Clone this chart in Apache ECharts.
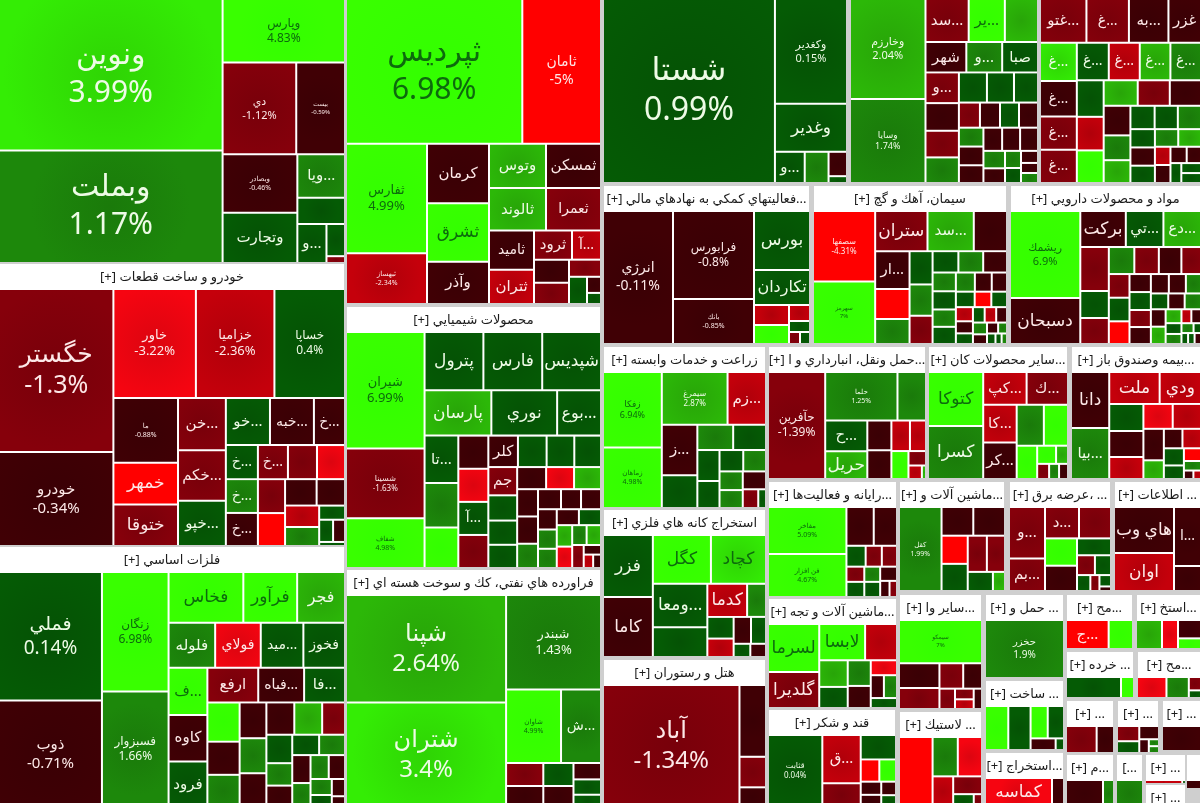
<!DOCTYPE html>
<html><head><meta charset="utf-8">
<style>html,body{margin:0;padding:0;background:#cfcfcf}#c{width:1200px;height:803px}</style>
<script src="https://cdn.jsdelivr.net/npm/echarts@6/dist/echarts.min.js"></script></head>
<body><div id="c"></div>
<script>
// ---------- DATA ----------
const bankNames=['ونوين','وبملت','وپارس','دي','بيست','وبصادر','وتجارت','...ويا','','...و'];
const bankSizes=[33744,25086,7749,6734,4459,4350,3750,2064,1248,1131,594,126];
const bankMoves=[3.99,1.17,4.83,-1.12,-0.59,-0.46,0.2,1.5,0.5,0.5,0.5,-1.5];

const autoNames=['خگستر','خودرو','خاور','خزاميا','خساپا','ما','خمهر','ختوقا','...خن','...خكم','...خپو','...خو','...خبه','...خ','...خ','...خ','','','...خ','','','','...خ'];
const autoSizes=[18582,10716,8964,8532,7668,4160,2688,2680,2496,2400,2160,2068,2060,1457,1088,1020,952,986,1080,918,832,728,1056,891,748,646,364,308,264,104];
const autoMoves=[-1.3,-0.34,-3.22,-2.36,0.4,-0.88,-4.5,-1.5,-1.5,-1.5,0.5,0.5,-0.5,-0.5,0.5,-1.5,-3.5,-1.5,1.5,-1.5,-0.5,-2.5,-0.5,-4.5,-0.5,1.5,0.5,0.5,-0.5,0.5];

const metalNames=['فملي','ذوب','زنگان','فسبزوار','فخاس','فرآور','فجر','فلوله','فولاي','...ميد','فخوز','...ف','ارفع','...فباه','...فا','كاوه','فرود'];
const metalSizes=[13056,10812,7854,7590,3750,2700,2400,2068,2024,1892,1848,1800,1734,1564,1394,1786,1740,1056,891,924,890,726,1248,888,1024,945,728,540,520,572,546,432,430,384,504,336,224,252,140];
const metalMoves=[0.14,-0.71,6.98,1.66,4.5,4.5,2.5,1.5,-3.5,0.5,0.5,4.5,-1.5,-0.5,0.5,-0.5,0.5,-0.5,-0.5,1.5,-0.5,0.5,4.5,2.5,1.5,-0.5,-1.5,0.5,1.5,1.5,-0.5,1.5,1.5,-0.5,-0.5,1.5,-0.5,0.5,-0.5];

const investNames=['ثپرديس','ثامان','ثفارس','ثبهساز','كرمان','ثشرق','وآذر','وتوس','ثمسكن','ثالوند','ثعمرا','ثاميد','ثتران','ثرود','...آ'];
const investSizes=[25311,11297,8800,4080,3658,3596,2604,2508,2420,2394,2310,1755,1530,1102,841,805,735,544,486,224,154];
const investMoves=[6.98,-5,4.99,-2.34,-0.5,4.5,-0.5,2.5,-0.5,2.5,-1.5,-0.5,-2.5,-1.5,-2.5,-0.5,-1.5,-1.5,0.5,-0.5,0.5];

const chemNames=['شيران','شسينا','شفاف','پترول','فارس','شپديس','پارسان','نوري','...بوع','...تا','','','','','...آ','','كلر','جم'];
const chemSizes=[9126,5460,3900,3422,3421,3420,3015,2970,1980,1598,1496,1360,992,991,990,989,928,812,725,696,667,899,868,837,638,594,616,567,460,400,399,566,504,361,352,330,380,360,351,286,329,285,264,165,105,126];
const chemMoves=[6.99,-1.63,4.98,0.5,0.5,0.5,2.5,0.5,0.5,0.5,1.5,4.5,-0.5,-3.5,0.5,-1.5,-0.5,-1.5,0.5,0.5,0.5,0.5,0.5,0.5,-0.5,2.5,-3.5,-0.5,-0.5,-0.5,-0.5,-0.5,1.5,1.5,-0.5,2.5,-0.5,1.5,0.5,1.5,-3.5,2.5,-1.5,-0.5,-0.5,-2.5];

const refineNames=['شپنا','شتران','شبندر','شاوان','...ش'];
const refineSizes=[17120,16640,8930,4015,2920,851,690,420,777,630,448,336];
const refineMoves=[2.64,3.4,1.43,4.99,1.5,-1.5,0.5,0.5,-0.5,-0.5,-0.5,0.5];

const shastaNames=['شستا','وكغدير','وغدير','...و'];
const shastaSizes=[31648,7560,3456,930,744,450,126];
const shastaMoves=[0.99,0.15,0.5,0.5,1.5,-0.5,0.5];

const holdNames=['وخارزم','وسايا','...سد','...ير','','شهر','...و','صبا','...و'];
const holdSizes=[7500,6300,1849,1548,1419,1230,1080,1079,1020,840,810,720,884,525,500,475,474,918,850,456,460,414,413,432,431,374,272,204,170,315,238,169];
const holdMoves=[2.04,1.74,-1.5,4.5,2.5,-0.5,1.5,0.5,-1.5,0.5,0.5,0.5,-1.5,-1.5,-0.5,0.5,-0.5,-0.5,1.5,-0.5,1.5,-0.5,-0.5,-0.5,-0.5,1.5,1.5,-0.5,-0.5,-0.5,0.5,1.5];

const foodNames=['...غتو','...غ','...به','غزر','...غ','...غ','...غ','...غ','...غ','...غ','...غ','...غ'];
const foodSizes=[2068,1892,1760,1450,1430,1248,1247,1170,1169,1332,1221,1184,999,918,891,884,806,832,810,675,621,576,552,551,456,455,418,408,432,270,289,238,285,220,200,199];
const foodMoves=[-1.5,-1.5,-0.5,-0.5,3.5,-1.5,-1.5,2.5,1.5,-0.5,0.5,-2.5,0.5,-2.5,4.5,2.5,-0.5,-1.5,-0.5,1.5,2.5,0.5,0.5,1.5,0.5,-0.5,1.5,2.5,0.5,-0.5,-2.5,-0.5,-0.5,0.5,0.5,0.5];

const finNames=['انرژي','فرابورس','بانك','بورس','تكاردان'];
const finSizes=[9310,7128,3645,3304,1960,700,336,665,231,132,120];
const finMoves=[-0.11,-0.8,-0.85,0.5,0.5,-2.5,-2.5,4.5,0.5,-1.5,0.5];

const cementNames=['سصفها','سهرمز','ستران','...سد','','...ار'];
const cementSizes=[4340,3844,2080,1840,1320,1292,1020,850,759,713,644,525,546,504,360,420,400,320,396,432,289,288,255,240,239,176,180,204,96,179,165,164,135,120,88,56,64];
const cementMoves=[-4.31,7,-1.5,2.5,-0.5,-0.5,-4.5,1.5,0.5,1.5,-1.5,1.5,0.5,-0.5,1.5,0.5,1.5,-0.5,0.5,1.5,-0.5,0.5,-4.5,0.5,-2.5,-2.5,0.5,-0.5,1.5,0.5,-0.5,1.5,-0.5,-0.5,0.5,1.5,0.5];

const pharmaNames=['ريشمك','دسبحان','بركت','...تي','...دع'];
const pharmaSizes=[6003,3174,1610,1330,1329,1232,676,650,598,520,756,728,480,479,460,378,342,324,288,377,270,252,251,216,357,255,356,254,156,168,132,135,117,72,71,70,69];
const pharmaMoves=[6.9,-0.5,-0.5,0.5,2.5,-1.5,1.5,-1.5,-0.5,-1.5,0.5,-1.5,-1.5,0.5,-4.5,-0.5,-0.5,-0.5,1.5,0.5,0.5,-0.5,2.5,2.5,-1.5,-0.5,-0.5,1.5,1.5,0.5,-0.5,-2.5,1.5,0.5,0.5,0.5,-0.5];

const agriNames=['زفكا','زماهان','سيمرغ','...زم','...ز'];
const agriSizes=[4408,3538,3445,2014,1785,1155,900,825,682,594,504,483,432,414,413,288,144];
const agriMoves=[6.94,4.98,2.87,-2.5,-0.5,0.5,1.5,0.5,0.5,0.5,0.5,1.5,1.5,1.5,-0.5,-1.5,0.5];

const transNames=['حآفرين','حلما','','...ح','حريل'];
const transSizes=[6156,3528,1392,1302,1176,720,570,480,696,493,255,182,56];
const transMoves=[-1.39,1.25,1.5,0.5,2.5,-0.5,-2.5,4.5,-0.5,-2.5,-1.5,-2.5,2.5];

const kanNames=['كتوكا','كسرا','...كپ','...ك','...كا','...كر'];
const kanSizes=[2970,2915,1419,1353,1254,1221,1107,984,680,342,216,180,150,135];
const kanMoves=[4.5,1.5,-2.5,-1.5,-2.5,-0.5,1.5,4.5,4.5,4.5,2.5,-1.5,1.5,-0.5];

const insureNames=['دانا','...بيا','ملت','ودي'];
const insureSizes=[2128,1938,1600,1312,918,725,700,884,748,640,380,360,342,216,359,270,162,80,64];
const insureMoves=[-0.5,1.5,-2.5,-2.5,0.5,-3.5,-2.5,-0.5,-2.5,-0.5,2.5,-0.5,0.5,-4.5,-2.5,0.5,1.5,-0.5,-2.5];

const compNames=['مفاخر','فن افزار'];
const compSizes=[3666,3354,1053,897,399,315,336,270,240,239,269,238,150,120];
const compMoves=[5.09,4.67,-0.5,-0.5,0.5,-1.5,-1.5,-1.5,1.5,0.5,0.5,-0.5,-0.5,-1.5];

const machNames=['كقل'];
const machSizes=[3528,899,898,728,648,684,702,475,228];
const machMoves=[1.99,-0.5,-0.5,-4.5,-1.5,-1.5,0.5,0.5,2.5];

const powerNames=['...و','...بم','...د'];
const powerSizes=[1836,1152,1054,992,864,800,567,351,315,210,143,130,52];
const powerMoves=[-1.5,-1.5,-1.5,-1.5,4.5,-0.5,0.5,-1.5,0.5,0.5,-1.5,0.5,-0.5];

const infoNames=['هاي وب','اوان','...ا'];
const infoSizes=[2760,2280,1593,675];
const infoMoves=[-0.5,-2.5,-0.5,-0.5];

const mineNames=['فزر','كاما','كگل','كچاد','...ومعا','','كدما'];
const mineSizes=[3100,3000,2842,2695,2380,1620,1320,627,572,486,405,468,221,208];
const mineMoves=[0.5,-0.5,4.5,3.5,0.5,0.5,-2.5,1.5,0.5,-2.5,0.5,-0.5,0.5,-0.5];

const hotelNames=['آباد'];
const hotelSizes=[16592,1898,806,520];
const hotelMoves=[-1.34,-0.5,-1.5,-0.5];

const mach2Names=['لسرما','لابسا','','گلديرا'];
const mach2Sizes=[2448,1656,1152,1836,756,598,390,299,298,588,506,260];
const mach2Moves=[4.5,4.5,-2.5,-1.5,2.5,0.5,-3.5,-0.5,1.5,1.5,-0.5,0.5];

const sugarNames=['قثابت','...ق'];
const sugarSizes=[3763,1786,828,399,357,874,240,260,192,168];
const sugarMoves=[0.04,-2.5,0.5,-4.5,4.5,-1.5,-0.5,-0.5,-0.5,0.5];

const otherNames=['سيمكو'];
const otherSizes=[3569,1000,600,475,840,315,198,180,168];
const otherMoves=[7,-0.5,-1.5,-0.5,-1.5,-1.5,-1.5,-2.5,-0.5];

const haulNames=['حخزر'];      const haulSizes=[4000];  const haulMoves=[1.9];
const buildNames=[];           const buildSizes=[1035,990,561,532,294,98]; const buildMoves=[4.5,0.5,4.5,0.5,-0.5,0.5];
const quarryNames=['كماسه'];   const quarrySizes=[2010,360]; const quarryMoves=[-3.5,-0.5];
const rubberNames=[];          const rubberSizes=[2310,975,936,620,504,260,104]; const rubberMoves=[-4.5,1.5,-3.5,-2.5,-1.5,0.5,-1.5];
const s29Names=['...ج'];       const s29Sizes=[1260,720]; const s29Moves=[-4.5,4.5];
const s30Names=[];             const s30Sizes=[780,480,437,253]; const s30Moves=[2.5,-3.5,-0.5,4.5];
const s31Names=[];             const s31Sizes=[1210,286]; const s31Moves=[0.5,4.5];
const s32Names=[];             const s32Sizes=[638,484,168,96]; const s32Moves=[-3.5,1.5,-1.5,0.5];
const s33Names=[];             const s33Sizes=[840,476]; const s33Moves=[-1.5,-0.5];
const s34Names=[];             const s34Sizes=[336,260,259,130,70,69]; const s34Moves=[-1.5,0.5,-0.5,-0.5,1.5,1.5];
const s35Names=[];             const s35Sizes=[900]; const s35Moves=[-0.5];
const s36Names=[];             const s36Sizes=[1036,308]; const s36Moves=[-0.5,1.5];
const s37Names=[];             const s37Sizes=[900]; const s37Moves=[1.5];
const s38Names=[];             const s38Sizes=[120,12]; const s38Moves=[-2.5,0.5];
const s39Names=[];             const s39Sizes=[120]; const s39Moves=[0.5];
const s40Names=[];             const s40Sizes=[90]; const s40Moves=[-0.5];

const sectorHeaders=['بانك‌ها','خودرو و ساخت قطعات','فلزات اساسي','شركتهاي چند رشته اي','محصولات شيميايي','فراورده هاي نفتي، كك و سوخت هسته اي','انبوه سازي','چندرشته اي','...غذايي','...فعاليتهاي كمكي به نهادهاي مالي','سيمان، آهك و گچ','مواد و محصولات دارويي','زراعت و خدمات وابسته','...حمل ونقل، انبارداري و ا','...ساير محصولات كان','...بيمه وصندوق باز','...رايانه و فعاليت‌ها','...ماشين آلات و','... ،عرضه برق','... اطلاعات','استخراج كانه هاي فلزي','هتل و رستوران','...ماشين آلات و تجه','قند و شكر','...ساير وا','... حمل و','... ساخت','...استخراج','... لاستيك','...مح','...استخ','... خرده','...مح','...','...','...','...م','[...','...','...',''];
const sectorNames=[bankNames,autoNames,metalNames,investNames,chemNames,refineNames,shastaNames,holdNames,foodNames,finNames,cementNames,pharmaNames,agriNames,transNames,kanNames,insureNames,compNames,machNames,powerNames,infoNames,mineNames,hotelNames,mach2Names,sugarNames,otherNames,haulNames,buildNames,quarryNames,rubberNames,s29Names,s30Names,s31Names,s32Names,s33Names,s34Names,s35Names,s36Names,s37Names,s38Names,s39Names,s40Names];
const sectorSizes=[bankSizes,autoSizes,metalSizes,investSizes,chemSizes,refineSizes,shastaSizes,holdSizes,foodSizes,finSizes,cementSizes,pharmaSizes,agriSizes,transSizes,kanSizes,insureSizes,compSizes,machSizes,powerSizes,infoSizes,mineSizes,hotelSizes,mach2Sizes,sugarSizes,otherSizes,haulSizes,buildSizes,quarrySizes,rubberSizes,s29Sizes,s30Sizes,s31Sizes,s32Sizes,s33Sizes,s34Sizes,s35Sizes,s36Sizes,s37Sizes,s38Sizes,s39Sizes,s40Sizes];
const sectorMoves=[bankMoves,autoMoves,metalMoves,investMoves,chemMoves,refineMoves,shastaMoves,holdMoves,foodMoves,finMoves,cementMoves,pharmaMoves,agriMoves,transMoves,kanMoves,insureMoves,compMoves,machMoves,powerMoves,infoMoves,mineMoves,hotelMoves,mach2Moves,sugarMoves,otherMoves,haulMoves,buildMoves,quarryMoves,rubberMoves,s29Moves,s30Moves,s31Moves,s32Moves,s33Moves,s34Moves,s35Moves,s36Moves,s37Moves,s38Moves,s39Moves,s40Moves];

// ---------- LAYOUT / STYLE (not data) ----------
const HEAD=26;
const sectorBoxes=[[0,-26,344,288],[0,264,344,281],[0,547,344,259],[347,-26,253,329],[347,307,253,260],[347,570,253,236],
[604,-26,242,208],[851,-26,186,208],[1041,-26,159,208],[604,186,205,157],[814,186,192,157],[1011,186,189,157],
[604,347,161,160],[769,347,156,131],[929,347,138,131],[1072,347,128,131],[769,482,127,114],[900,482,104,108],[1010,482,100,108],[1115,482,85,108],
[604,510,161,146],[604,660,161,146],[769,599,127,108],[769,710,126,96],[900,595,81,113],[986,595,77,82],[986,681,77,68],[986,753,77,53],[900,712,81,94],
[1067,595,65,53],[1137,595,63,53],[1067,652,66,45],[1138,652,62,45],[1067,701,46,51],[1118,701,40,51],[1163,701,37,49],[1067,755,46,51],[1117,755,25,51],[1146,755,39,28],[1146,785,39,30],[1187,755,13,33]];
const moveBands=[-4,-3,-2,-1,0,1,2,3,4];
const bandColors=['#ff0000','#dc0510','#b0000a','#78000a','#3a0005','#055205','#1a7a0a','#28a508','#2fd405','#33ff00'];
const pctFont={'ونوين':30,'وبملت':30,'وپارس':12,'دي':11,'بيست':6,'وبصادر':7,'خگستر':25,'خودرو':15,'خاور':13,'خزاميا':13,'خساپا':12,'ما':7,'فملي':19,'ذوب':15,'زنگان':12,'فسبزوار':12,'ثپرديس':30,'ثامان':14,'ثفارس':13,'ثبهساز':7,'شيران':13,'شسينا':8,'شفاف':7,'شپنا':24,'شتران':24,'شبندر':13,'شاوان':7,'شستا':32,'وكغدير':11,'وخارزم':11,'وسايا':9,'انرژي':14,'فرابورس':12,'بانك':7,'سصفها':8,'سهرمز':6,'ريشمك':11,'زفكا':9,'زماهان':7,'سيمرغ':8,'حآفرين':12,'حلما':7,'مفاخر':7,'فن افزار':7,'كقل':7,'حخزر':10,'قثابت':8,'آباد':24,'سيمكو':6};
const nameFont={'...خ':14,'...غ':14,'...و':15,'...ا':14,'...ر':14,'...ز':15,'...ف':15,'...آ':14,'...ش':14,'...ك':15,'...كا':15,'...كر':15,'...ق':15,'...ح':15,'...د':15,'...ج':15,'...بم':15,'...به':15,'...زم':15,'...ار':15,'...تا':15,'...بوع':16,'...تي':15,'...دع':15,'...سد':15,'...ير':15,'...كپ':15,'...بيا':15,'...خن':15,'...خو':15,'...خكم':15,'...خبه':14,'...خپو':15,'...غتو':15,'غزر':15,'شهر':15,'صبا':15,'ثرود':15,'جم':15,'كلر':15,'...فا':15,'...فباه':14,'...ميد':14,'فخوز':14,'فلوله':15,'فولاي':14,'ارفع':15,'كاوه':15,'فرود':15,'فجر':16,'ثمسكن':15,'ثعمرا':14,'ثاميد':14,'...ويا':15,'وتجارت':15,'كرمان':15,'ثالوند':15,'وتوس':15,'ثتران':15,'وآذر':15,'تكاردان':16};
const darkText=['كچاد'];
const FONT='"Noto Sans","DejaVu Sans",sans-serif';
const rtl=s=>'\u202B'+s+'\u202C';
function colorOf(m){let i=0;while(i<moveBands.length&&m>=moveBands[i])i++;return bandColors[i];}
function fill(m){
  const base=colorOf(m);
  return {type:'radial',x:0.5,y:0.5,r:0.72,colorStops:[{offset:0,color:base},{offset:1,color:echarts.color.lift(base,-0.12)}]};
}
function leaf(name,size,move){
  const hasPct=name in pctFont;
  const txt=name?(hasPct?rtl(name)+'\n'+move+'%':rtl(name)):'';
  const fs=hasPct?pctFont[name]:(nameFont[name]||17);
  const bright=move>=4||darkText.includes(name);
  return {name:txt,value:size,itemStyle:{color:fill(move)},
    label:{fontSize:fs,lineHeight:Math.round(fs*1.25),color:bright?'#0d6a0d':(move<0?'#fde8e8':'#eefbe6')}};
}
const series=sectorBoxes.map((b,i)=>{
  const h=sectorHeaders[i];
  const title=!h?' ':(h==='[...'?h:rtl(h+' [+]'));
  return {
  type:'treemap',left:b[0],top:b[1],width:b[2],height:b[3],
  roam:false,nodeClick:false,silent:true,animation:false,breadcrumb:{show:false},
  visibleMin:0,sort:'desc',squareRatio:1,
  label:{show:true,position:'inside',align:'center',verticalAlign:'middle',overflow:'none',padding:0,fontFamily:FONT,formatter:'{b}'},
  levels:[
    {itemStyle:{gapWidth:0,borderWidth:0,color:'#f4f4f4'}},
    {itemStyle:{gapWidth:2,borderWidth:0,color:'#f7f7f7'},
     upperLabel:{show:true,height:HEAD,position:'inside',align:'center',verticalAlign:'middle',color:'#1c1c1c',fontSize:13,fontFamily:FONT,overflow:'none',padding:0}},
    {itemStyle:{gapWidth:0,borderWidth:0}}
  ],
  data:[{name:title,children:sectorSizes[i].map((s,k)=>leaf(sectorNames[i][k]||'',s,sectorMoves[i][k]))}]
};});
const chart=echarts.init(document.getElementById('c'),null,{renderer:'canvas'});
chart.setOption({animation:false,backgroundColor:'#cfcfcf',series});
</script></body></html>
